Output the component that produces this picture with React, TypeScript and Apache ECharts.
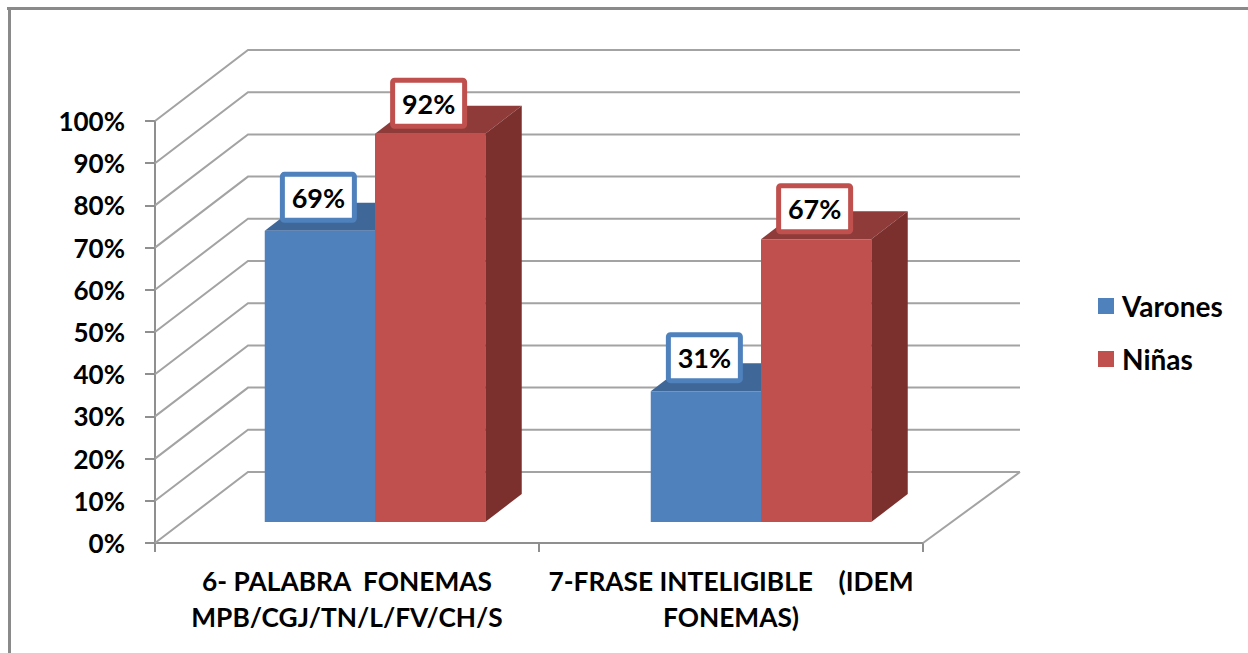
import React, { useEffect, useRef } from "react";
import * as echarts from "echarts";

const categories = ["6- PALABRA  FONEMAS\nMPB/CGJ/TN/L/FV/CH/S", "7-FRASE INTELIGIBLE    (IDEM\nFONEMAS)"];
const varones = [69, 31];
const ninas = [92, 67];
const wallTicks = [0, 10, 20, 30, 40, 50, 60, 70, 80, 90, 100];

const FONT = "Lato";
const DEPTH_X = 93;
const DEPTH_Y = 71;
const BAR_W = 110.25;
const BAR_SHIFT = [28, 30];
const FRONT_DY = 21;
const BAR_DX = 36.5;
const BAR_DY = 28;
const GRID_C = "#a3a3a3";

function wallItem(params: any, api: any) {
  const v = api.value(1);
  const y = api.coord([0, v])[1];
  const cs = params.coordSys;
  const xl = cs.x;
  const xr = cs.x + cs.width;
  const children: any[] = [
    {
      type: "polyline",
      shape: { points: [[xl, y], [xl + DEPTH_X, y - DEPTH_Y], [xr + DEPTH_X + 4, y - DEPTH_Y]] },
      style: { stroke: GRID_C, lineWidth: 2, fill: "none" },
    },
  ];
  if (v === 0) {
    children.push({
      type: "line",
      shape: { x1: xr, y1: y, x2: xr + DEPTH_X + 4, y2: y - DEPTH_Y },
      style: { stroke: GRID_C, lineWidth: 2 },
    });
  }
  return { type: "group", children };
}

function barRender(front: string, top: string, side: string, border: string, dir: number, labelGap: number) {
  return (_params: any, api: any) => {
    const cat = api.value(0);
    const val = api.value(1);
    const p = api.coord([cat, val]);
    const base = api.coord([cat, 0]);
    const x0 = dir < 0 ? p[0] + BAR_SHIFT[cat] - BAR_W : p[0] + BAR_SHIFT[cat];
    const x1 = x0 + BAR_W;
    const yT = p[1] - FRONT_DY;
    const yB = base[1] - FRONT_DY;
    const cx = (x0 + x1) / 2 - 1.5;
    const cy = yT - labelGap;
    return {
      type: "group",
      children: [
        { type: "polygon", shape: { points: [[x0, yT], [x1, yT], [x1 + BAR_DX, yT - BAR_DY], [x0 + BAR_DX, yT - BAR_DY]] }, style: { fill: top } },
        { type: "polygon", shape: { points: [[x1, yT], [x1 + BAR_DX, yT - BAR_DY], [x1 + BAR_DX, yB - BAR_DY], [x1, yB]] }, style: { fill: side } },
        { type: "rect", shape: { x: x0, y: yT, width: BAR_W, height: yB - yT }, style: { fill: front } },
        { type: "rect", shape: { x: cx - 36, y: cy - 23, width: 72, height: 46, r: 2 }, style: { fill: "#ffffff", stroke: border, lineWidth: 5 } },
        { type: "text", x: cx, y: cy, style: { text: val + "%", fill: "#000000", font: `bold 27px ${FONT}`, textAlign: "center", textVerticalAlign: "middle" } },
      ],
    };
  };
}

export default function App() {
  const ref = useRef<HTMLDivElement>(null);
  useEffect(() => {
    document.body.style.margin = "0";
    const chart = echarts.init(ref.current!, undefined, { renderer: "svg" });
    chart.setOption({
      animation: false,
      backgroundColor: "#ffffff",
      grid: { left: 155, top: 121, width: 768, height: 422, containLabel: false },
      legend: {
        orient: "vertical",
        left: 1098,
        top: 291,
        padding: 0,
        icon: "rect",
        itemWidth: 16,
        itemHeight: 16,
        itemGap: 23,
        data: ["Varones", "Niñas"],
        textStyle: { fontFamily: FONT, fontWeight: "bold", fontSize: 28, color: "#000000", lineHeight: 30, padding: [0, 0, 0, 3] },
      },
      xAxis: {
        type: "category",
        data: categories,
        axisLine: { lineStyle: { color: "#8f8f8f", width: 2 } },
        axisTick: { show: true, length: 9, alignWithLabel: false, lineStyle: { color: "#8f8f8f", width: 2 } },
        axisLabel: { fontFamily: FONT, fontWeight: "bold", fontSize: 26.3, color: "#000000", lineHeight: 36, margin: 20, interval: 0 },
      },
      yAxis: {
        type: "value",
        min: 0,
        max: 100,
        interval: 10,
        splitLine: { show: false },
        axisLine: { show: true, lineStyle: { color: "#8f8f8f", width: 2 } },
        axisTick: { show: true, length: 10, lineStyle: { color: "#8f8f8f", width: 2 } },
        axisLabel: { formatter: "{value}%", fontFamily: FONT, fontWeight: "bold", fontSize: 26, color: "#000000", margin: 30, padding: [0, 0, 3, 0] },
      },
      series: [
        { type: "custom", name: "walls", z: 1, data: wallTicks.map((v) => [0, v]), encode: { x: 0, y: 1 }, renderItem: wallItem, silent: true },
        { type: "custom", name: "Varones", z: 3, itemStyle: { color: "#4f81bd" }, data: varones.map((v, i) => [i, v]), encode: { x: 0, y: 1 }, renderItem: barRender("#4f81bd", "#3f6797", "#34557f", "#4f81bd", -1, 33.5) },
        { type: "custom", name: "Niñas", z: 4, itemStyle: { color: "#c0504d" }, data: ninas.map((v, i) => [i, v]), encode: { x: 0, y: 1 }, renderItem: barRender("#c0504d", "#8e3b39", "#7b302e", "#c0504d", 1, 30.5) },
      ],
      graphic: [
        { type: "line", shape: { x1: 7, y1: 8.5, x2: 1248, y2: 8.5 }, style: { stroke: "#8a8a8a", lineWidth: 3 } },
        { type: "line", shape: { x1: 9.5, y1: 7, x2: 9.5, y2: 653 }, style: { stroke: "#8a8a8a", lineWidth: 3 } },
      ],
    });
    return () => chart.dispose();
  }, []);
  return <div ref={ref} style={{ position: "absolute", left: 0, top: 0, width: 1248, height: 653 }} />;
}
